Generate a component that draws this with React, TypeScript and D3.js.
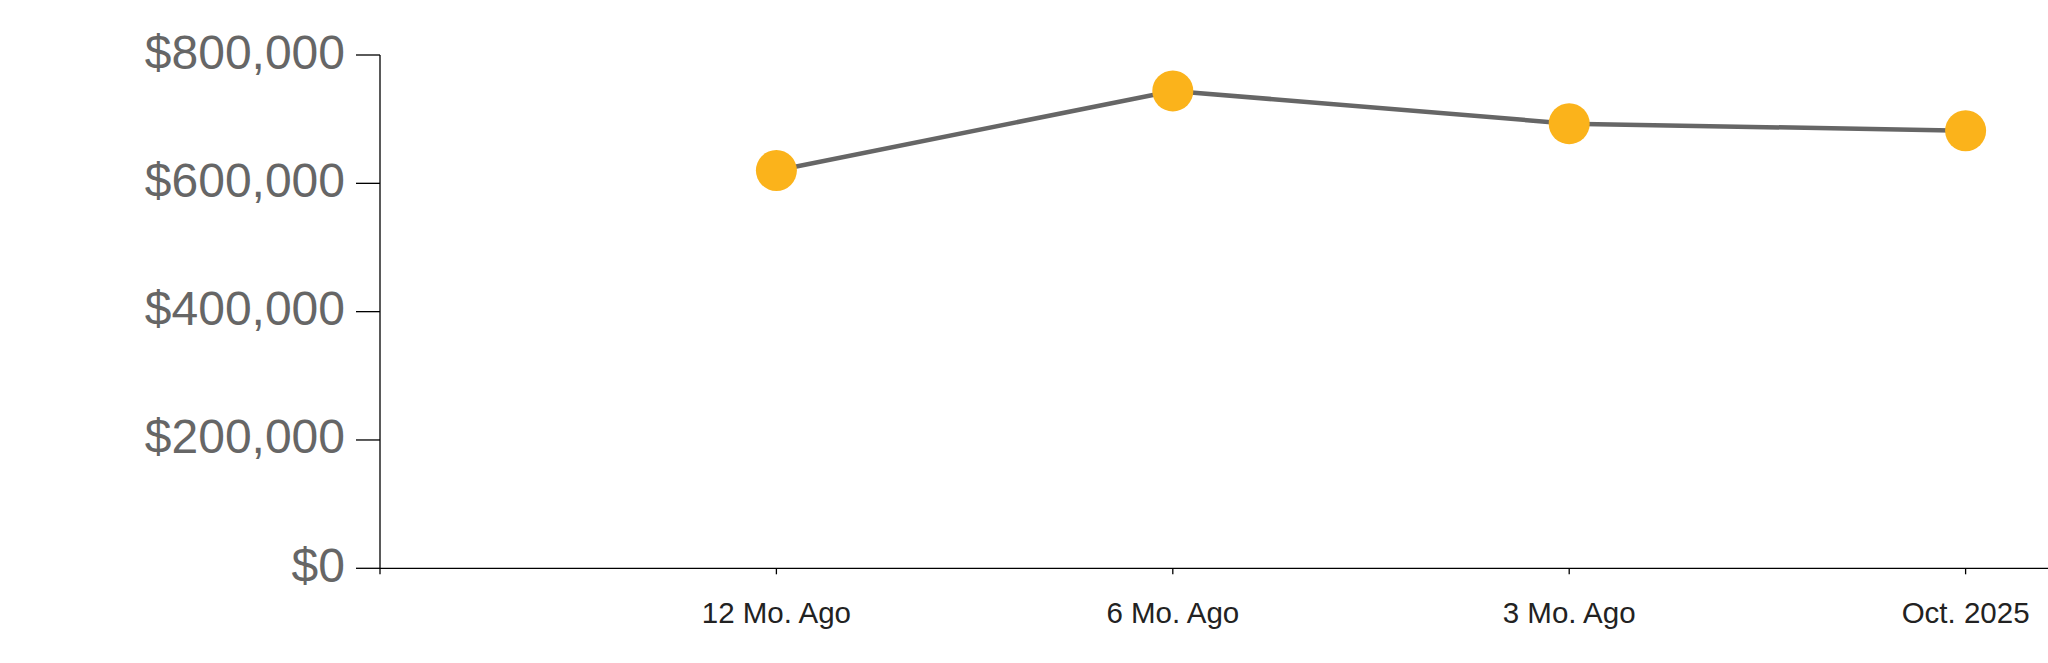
import React from "react";
import * as d3 from "d3";

const categories = ["12 Mo. Ago", "6 Mo. Ago", "3 Mo. Ago", "Oct. 2025"];
const values = [620000, 744000, 693000, 682000];
const yTicks = [0, 200000, 400000, 600000, 800000];

const W = 2048;
const H = 663;

export default function App() {
  const x = d3.scalePoint<string>().domain(categories).range([380, 2362]).padding(1);
  const y = d3.scaleLinear().domain([0, 800000]).range([568.3, 55]);
  const fmt = (v: number) => "$" + d3.format(",")(v);
  const line = d3
    .line<number>()
    .x((_, i) => x(categories[i]) as number)
    .y((d) => y(d));
  const x0 = 380;
  const y0 = y(0);

  return (
    <svg
      width={W}
      height={H}
      style={{ position: "absolute", left: 0, top: 0, background: "#fff" }}
    >
      {/* Y axis */}
      <g>
        <line x1={x0} x2={x0} y1={y(800000)} y2={y0 + 6} stroke="#000" strokeWidth={1.3} />
        {yTicks.map((t) => (
          <g key={t}>
            <line x1={x0 - 24} x2={x0} y1={y(t)} y2={y(t)} stroke="#000" strokeWidth={1.3} />
            <text
              x={x0 - 35}
              y={y(t) + 13.5}
              textAnchor="end"
              fill="#666666"
              fontFamily="'Liberation Sans', Arial, sans-serif"
              fontSize={48}
            >
              {fmt(t)}
            </text>
          </g>
        ))}
      </g>
      {/* X axis */}
      <g>
        <line x1={x0} x2={W} y1={y0} y2={y0} stroke="#000" strokeWidth={1.3} />
        {categories.map((c) => (
          <g key={c}>
            <line x1={x(c)} x2={x(c)} y1={y0} y2={y0 + 6} stroke="#000" strokeWidth={1.3} />
            <text
              x={x(c)}
              y={623}
              textAnchor="middle"
              fill="#222222"
              fontFamily="'Liberation Sans', Arial, sans-serif"
              fontSize={29.5}
            >
              {c}
            </text>
          </g>
        ))}
      </g>
      {/* Line */}
      <path d={line(values) || ""} fill="none" stroke="#666666" strokeWidth={4.5} />
      {values.map((v, i) => (
        <circle key={i} cx={x(categories[i])} cy={y(v)} r={20.5} fill="#FBB31B" />
      ))}
    </svg>
  );
}
